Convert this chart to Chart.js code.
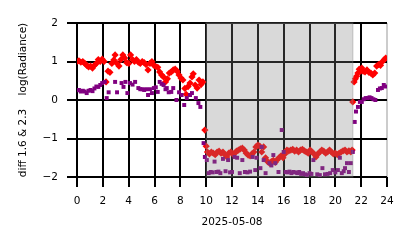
<!DOCTYPE html>
<html>
<head>
<meta charset="utf-8">
<script src="https://cdn.jsdelivr.net/npm/chart.js@4"></script>
<style>
  html, body { margin: 0; padding: 0; background: #fff; }
  #wrap { width: 414px; height: 248px; }
</style>
</head>
<body>
<div id="wrap"><canvas id="chart" width="414" height="248"></canvas></div>
<script>
// ---- data (hours of 2025-05-08) ----
const redHours = [
  0.00, 0.15, 0.30, 0.45, 0.60, 0.75, 0.90, 1.05, 1.20, 1.35, 1.50, 1.65, 1.80, 1.95, 2.10,
  2.25, 2.40, 2.55, 2.70, 2.85, 2.95, 3.10, 3.25, 3.40, 3.55, 3.70, 3.85, 4.00, 4.15, 4.30,
  4.45, 4.60, 4.75, 4.90, 5.05, 5.20, 5.35, 5.50, 5.65, 5.80, 5.95, 6.10, 6.25, 6.40, 6.55,
  6.70, 6.85, 7.00, 7.15, 7.30, 7.45, 7.60, 7.75, 7.90, 8.05, 8.20, 8.35, 8.45, 8.60, 8.75,
  8.90, 9.00, 9.15, 9.30, 9.45, 9.60, 9.75, 9.90,
  10.00, 10.10, 10.25, 10.40, 10.55, 10.70, 10.85, 11.00, 11.15, 11.30, 11.45, 11.60, 11.75, 11.90,
  12.05, 12.20, 12.35, 12.50, 12.65, 12.80, 12.95, 13.10, 13.25, 13.40, 13.55, 13.70, 13.85, 14.00,
  14.15, 14.30, 14.45, 14.60, 14.75, 14.90, 15.05, 15.20, 15.35, 15.50, 15.65, 15.80, 15.95, 16.10,
  16.25, 16.40, 16.55, 16.70, 16.85, 17.00, 17.15, 17.30, 17.45, 17.60, 17.75, 17.90, 18.05, 18.20,
  18.35, 18.50, 18.65, 18.80, 18.95, 19.10, 19.25, 19.40, 19.55, 19.70, 19.85, 20.00, 20.15, 20.30,
  20.45, 20.60, 20.75, 20.90, 21.05, 21.20, 21.30,
  21.35, 21.45, 21.55, 21.65, 21.75, 21.85, 21.95, 22.05, 22.15, 22.30, 22.45, 22.60, 22.75, 22.90,
  23.05, 23.20, 23.35, 23.50, 23.65, 23.80, 23.90
];
const redValues = [
  1.00, 1.02, 0.98, 1.00, 0.95, 0.90, 0.86, 0.88, 0.83, 0.90, 0.95, 1.05, 1.00, 1.06, 1.00,
  0.47, 0.75, 0.72, 0.95, 1.04, 1.17, 0.95, 0.88, 1.05, 1.17, 1.09, 0.97, 0.95, 1.17, 1.05,
  1.00, 1.05, 0.98, 0.95, 1.00, 0.97, 0.92, 0.78, 0.95, 1.00, 0.90, 0.87, 0.85, 0.73, 0.65,
  0.60, 0.47, 0.55, 0.70, 0.73, 0.78, 0.80, 0.75, 0.65, 0.57, 0.52, 0.30, 0.15, 0.35, 0.44,
  0.60, 0.68, 0.39, 0.31, 0.52, 0.40, 0.47, -0.78,
  -1.20, -1.35, -1.40, -1.35, -1.38, -1.42, -1.35, -1.33, -1.38, -1.35, -1.42, -1.48, -1.38, -1.35,
  -1.40, -1.38, -1.33, -1.30, -1.27, -1.25, -1.30, -1.38, -1.43, -1.45, -1.40, -1.35, -1.22, -1.17,
  -1.20, -1.35, -1.22, -1.50, -1.60, -1.64, -1.60, -1.57, -1.62, -1.55, -1.50, -1.45, -1.50, -1.40,
  -1.30, -1.32, -1.30, -1.28, -1.33, -1.30, -1.35, -1.30, -1.28, -1.32, -1.35, -1.38, -1.30, -1.35,
  -1.40, -1.48, -1.40, -1.35, -1.30, -1.33, -1.38, -1.35, -1.30, -1.35, -1.40, -1.38, -1.42, -1.38,
  -1.35, -1.32, -1.30, -1.35, -1.32, -1.35, -1.30,
  -0.05, 0.47, 0.55, 0.62, 0.70, 0.80, 0.75, 0.83, 0.75, 0.73, 0.78, 0.72, 0.70, 0.65,
  0.70, 0.88, 0.92, 0.90, 1.00, 1.05, 1.09
];

const purpleHours = [
  0.00, 0.15, 0.30, 0.45, 0.60, 0.75, 0.90, 1.05, 1.20, 1.35, 1.50, 1.65, 1.80, 1.95, 2.15,
  2.30, 2.45, 2.95, 3.10, 3.45, 3.60, 3.75, 3.90, 4.10, 4.30, 4.50, 4.75, 4.90, 5.05, 5.20,
  5.35, 5.50, 5.65, 5.80, 5.95, 6.10, 6.25, 6.40, 6.55, 6.70, 6.85, 6.95, 7.10, 7.30, 7.45,
  7.70, 7.90, 8.10, 8.30, 8.50, 8.75, 8.90, 9.20, 9.40, 9.55, 9.80, 9.90,
  10.05, 10.20, 10.35, 10.50, 10.65, 10.80, 10.95, 11.10, 11.30, 11.50, 11.70, 11.85, 12.00, 12.20,
  12.40, 12.60, 12.80, 13.00, 13.20, 13.40, 13.60, 13.80, 13.90, 14.20, 14.30, 14.45, 14.60, 14.90,
  15.05, 15.20, 15.35, 15.60, 15.85, 16.00, 16.15, 16.30, 16.45, 16.60, 16.75, 16.90, 17.05, 17.20,
  17.35, 17.50, 17.65, 17.80, 18.00, 18.15, 18.30, 18.60, 18.80, 19.00, 19.20, 19.40, 19.60, 19.80,
  20.00, 20.20, 20.35, 20.50, 20.65, 20.75, 20.90, 21.05, 21.20, 21.35,
  21.50, 21.60, 21.75, 21.90, 22.05, 22.20, 22.35, 22.50, 22.65, 22.80, 22.95, 23.10, 23.30, 23.45,
  23.60, 23.75, 23.85
];
const purpleValues = [
  0.25, 0.26, 0.22, 0.24, 0.22, 0.18, 0.24, 0.26, 0.23, 0.30, 0.35, 0.34, 0.39, 0.44, 0.47,
  0.05, 0.20, 0.47, 0.20, 0.44, 0.34, 0.47, 0.18, 0.44, 0.40, 0.47, 0.31, 0.28, 0.28, 0.26,
  0.28, 0.13, 0.28, 0.18, 0.31, 0.33, 0.21, 0.47, 0.42, 0.39, 0.28, 0.31, 0.20, 0.21, 0.31,
  0.00, 0.20, 0.13, -0.13, 0.05, 0.13, 0.18, 0.05, -0.08, -0.18, -1.12, -1.48,
  -1.56, -1.90, -1.87, -1.88, -1.60, -1.87, -1.86, -1.90, -1.53, -1.85, -1.56, -1.88, -1.87, -1.48,
  -1.50, -1.90, -1.56, -1.87, -1.88, -1.86, -1.48, -1.82, -1.50, -1.77, -1.22, -1.56, -1.90, -1.64,
  -1.70, -1.43, -1.64, -1.87, -0.78, -1.35, -1.87, -1.88, -1.86, -1.90, -1.87, -1.88, -1.90, -1.87,
  -1.92, -1.90, -1.93, -1.95, -1.90, -1.92, -1.56, -1.93, -1.95, -1.77, -1.93, -1.92, -1.90, -1.82,
  -1.88, -1.82, -1.50, -1.90, -1.85, -1.77, -1.64, -1.87, -1.64, -1.35,
  -0.57, -0.30, -0.18, -0.05, -0.05, 0.02, 0.05, 0.05, 0.07, 0.05, 0.02, 0.00, 0.26, 0.30,
  0.31, 0.39, 0.35
];

// shaded span (hours)
const shadeStart = [10.0];
const shadeEnd = [21.35];

const xTicks = [0, 2, 4, 6, 8, 10, 12, 14, 16, 18, 20, 22, 24];
const yTicks = [-2, -1, 0, 1, 2];

const FONT = { family: "'DejaVu Sans', sans-serif", size: 10.5 };

// gray span drawn over the points, like a translucent band
const shadePlugin = {
  id: 'shade',
  afterDatasetsDraw(chart) {
    const { ctx, chartArea, scales } = chart;
    ctx.save();
    ctx.fillStyle = 'rgba(128,128,128,0.3)';
    ctx.strokeStyle = 'rgba(128,128,128,0.3)';
    ctx.lineWidth = 1.5;
    for (let i = 0; i < shadeStart.length; i++) {
      const x0 = scales.x.getPixelForValue(shadeStart[i]);
      const x1 = scales.x.getPixelForValue(shadeEnd[i]);
      ctx.fillRect(x0, chartArea.top, x1 - x0, chartArea.bottom - chartArea.top);
      ctx.strokeRect(x0, chartArea.top, x1 - x0, chartArea.bottom - chartArea.top);
    }
    ctx.restore();
  }
};

const minus = v => String(v).replace('-', '\u2212');

new Chart(document.getElementById('chart'), {
  type: 'scatter',
  data: {
    datasets: [
      {
        label: 'purple',
        data: purpleHours.map((h, i) => ({ x: h, y: purpleValues[i] })),
        backgroundColor: '#800080',
        pointStyle: 'rect',
        pointRadius: 2.8,
        pointBorderWidth: 0,
        order: 0
      },
      {
        label: 'red',
        data: redHours.map((h, i) => ({ x: h, y: redValues[i] })),
        backgroundColor: '#ff0000',
        pointStyle: 'rectRot',
        pointRadius: 3.6,
        pointBorderWidth: 0,
        order: 1
      }
    ]
  },
  options: {
    responsive: false,
    animation: false,
    events: [],
    layout: { padding: { left: 0, top: 23, right: 27, bottom: 0 } },
    plugins: { legend: { display: false }, tooltip: { enabled: false } },
    scales: {
      x: {
        type: 'linear',
        min: 0,
        max: 24,
        afterFit: s => { s.height = 71; },
        afterBuildTicks: s => { s.ticks = xTicks.map(v => ({ value: v })); },
        grid: {
          color: c => (c.tick && c.tick.value === 24 ? '#cccccc' : '#000000'),
          tickColor: '#000000',
          lineWidth: 2,
          tickLength: 10
        },
        border: { display: false },
        ticks: { color: '#000', font: FONT, padding: 8, maxRotation: 0, callback: v => minus(v) },
        title: { display: true, text: '2025-05-08', color: '#000', font: FONT, padding: { top: 0, bottom: 19 } }
      },
      y: {
        type: 'linear',
        min: -2,
        max: 2,
        afterFit: s => { s.width = 77; },
        afterBuildTicks: s => { s.ticks = yTicks.map(v => ({ value: v })); },
        grid: { color: '#000000', lineWidth: 2, tickLength: 10 },
        border: { display: false },
        ticks: { color: '#000', font: FONT, padding: 9, callback: v => minus(v) },
        title: { display: true, text: 'diff 1.6 & 2.3    log(Radiance)', color: '#000', font: FONT, padding: { top: 17, bottom: 0 } }
      }
    }
  },
  plugins: [shadePlugin]
});
</script>
</body>
</html>
